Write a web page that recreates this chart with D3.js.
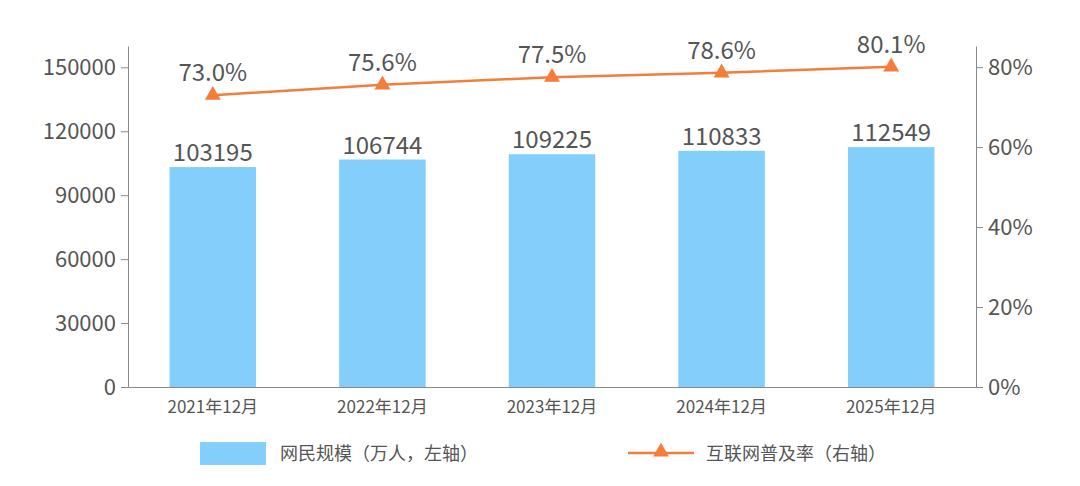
<!DOCTYPE html>
<html><head><meta charset="utf-8">
<script src="https://cdn.jsdelivr.net/npm/d3@7/dist/d3.min.js"></script>
<style>body{margin:0;background:#fff}</style>
</head><body>
<svg id="chart" width="1080" height="486"></svg>
<script>
// chart data
const categories = ['2021年12月', '2022年12月', '2023年12月', '2024年12月', '2025年12月'];
const users = [103195, 106744, 109225, 110833, 112549];
const rate = [73.0, 75.6, 77.5, 78.6, 80.1];
const leftTicks = [0, 30000, 60000, 90000, 120000, 150000];
const rightTicks = [0, 20, 40, 60, 80];

const svg = d3.select('#chart');
const font = '"Noto Sans CJK SC", "Noto Sans", sans-serif';
const grey = '#555';
const mLeft = 128, mRight = 976, mTop = 46, mBottom = 387;

const x = d3.scaleBand().domain(categories).range([mLeft, mRight]).paddingInner(0.49).paddingOuter(0.245);
const yL = d3.scaleLinear().domain([0, 160000]).range([mBottom, mTop]);
const yR = d3.scaleLinear().domain([0, 85.3]).range([mBottom, mTop]);

// axes
const gl = svg.append('g').attr('transform', `translate(${mLeft},0)`)
  .call(d3.axisLeft(yL).tickValues(leftTicks).tickSize(7).tickSizeOuter(0).tickFormat(d3.format('d')));
const gr = svg.append('g').attr('transform', `translate(${mRight},0)`)
  .call(d3.axisRight(yR).tickValues(rightTicks).tickSize(7).tickSizeOuter(0).tickFormat(d => d + '%'));
const gb = svg.append('g').attr('transform', `translate(0,${mBottom})`)
  .call(d3.axisBottom(x).tickSize(0).tickPadding(14));
[gl, gr, gb].forEach(g => {
  g.selectAll('path,line').attr('stroke', '#888');
  g.selectAll('text').attr('fill', grey).style('font-family', font);
});
gl.selectAll('text').style('font-size', '22px').attr('dx', '-2');
gr.selectAll('text').style('font-size', '22px').attr('dx', '2');
gb.selectAll('text').style('font-size', '17px');

// bars
svg.selectAll('.bar').data(users).join('rect')
  .attr('x', (d, i) => x(categories[i])).attr('width', x.bandwidth())
  .attr('y', d => yL(d)).attr('height', d => mBottom - yL(d))
  .attr('fill', '#84cefb');
svg.selectAll('.blab').data(users).join('text')
  .attr('x', (d, i) => x(categories[i]) + x.bandwidth() / 2).attr('y', d => yL(d) - 6)
  .attr('text-anchor', 'middle').attr('fill', grey).style('font-family', font).style('font-size', '24px')
  .text(d => d);

// line
const cx = (d, i) => x(categories[i]) + x.bandwidth() / 2;
const orange = '#f47d3a';
svg.append('path').datum(rate)
  .attr('d', d3.line().x(cx).y(d => yR(d)))
  .attr('fill', 'none').attr('stroke', orange).attr('stroke-width', 2.5);
const tri = d3.symbol().type(d3.symbolTriangle).size(110);
svg.selectAll('.pt').data(rate).join('path')
  .attr('d', tri).attr('fill', orange)
  .attr('transform', (d, i) => `translate(${cx(d, i)},${yR(d)})`);
svg.selectAll('.plab').data(rate).join('text')
  .attr('x', cx).attr('y', d => yR(d) - 14)
  .attr('text-anchor', 'middle').attr('fill', grey).style('font-family', font).style('font-size', '24px')
  .text(d => d.toFixed(1) + '%');

// legend
svg.append('rect').attr('x', 200).attr('y', 442).attr('width', 66).attr('height', 23).attr('fill', '#84cefb');
svg.append('text').attr('x', 280).attr('y', 460).attr('fill', grey).style('font-family', font).style('font-size', '18px')
  .text('网民规模（万人，左轴）');
svg.append('line').attr('x1', 628).attr('x2', 694).attr('y1', 453).attr('y2', 453).attr('stroke', orange).attr('stroke-width', 2.5);
svg.append('path').attr('d', tri).attr('fill', orange).attr('transform', 'translate(661,452)');
svg.append('text').attr('x', 706).attr('y', 460).attr('fill', grey).style('font-family', font).style('font-size', '18px')
  .text('互联网普及率（右轴）');
</script>
</body></html>
